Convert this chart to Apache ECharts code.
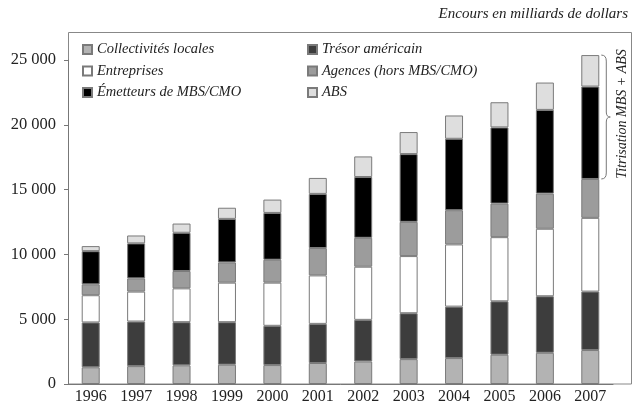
<!DOCTYPE html>
<html>
<head>
<meta charset="utf-8">
<script src="https://cdn.jsdelivr.net/npm/echarts@6/dist/echarts.min.js"></script>
<style>
html,body{margin:0;padding:0;background:#fff;}
#chart{width:636px;height:410px;}
</style>
</head>
<body>
<div id="chart"></div>
<script>
const years = ['1996','1997','1998','1999','2000','2001','2002','2003','2004','2005','2006','2007'];
const collectivites = [1290,1380,1440,1490,1460,1620,1740,1920,2000,2260,2410,2620];
const tresor        = [3460,3440,3330,3280,3030,3020,3210,3540,3970,4120,4360,4510];
const entreprises   = [2100,2310,2610,3050,3330,3740,4100,4410,4800,4950,5210,5690];
const agences       = [840,1020,1340,1560,1770,2110,2230,2640,2640,2590,2710,3000];
const mbs           = [2560,2700,2950,3360,3610,4180,4690,5230,5510,5880,6460,7130];
const abs           = [390,610,710,860,1030,1230,1590,1700,1800,1940,2110,2430];

const names = ['Collectivités locales','Trésor américain','Entreprises','Agences (hors MBS/CMO)','Émetteurs de MBS/CMO','ABS'];
const colors = ['#b3b3b3','#3d3d3d','#ffffff','#9c9c9c','#000000','#dedede'];
const seriesData = [collectivites, tresor, entreprises, agences, mbs, abs];

const serif = '"Liberation Serif", "DejaVu Serif", serif';
const chart = echarts.init(document.getElementById('chart'), null, {renderer:'canvas'});

const legendText = {fontFamily: serif, fontStyle:'italic', fontSize:14.5, color:'#222'};
const option = {
  animation:false,
  backgroundColor:'#fff',
  title:{
    text:'Encours en milliards de dollars',
    right:3, top:2,
    textStyle:{fontFamily:serif, fontStyle:'italic', fontWeight:'normal', fontSize:15, color:'#222'}
  },
  legend:[
    {data:[names[0],names[2],names[4]], orient:'vertical', left:77, top:37, itemWidth:9, itemHeight:9, itemGap:6.5,
     icon:'rect', textStyle:legendText, selectedMode:false},
    {data:[names[1],names[3],names[5]], orient:'vertical', left:302, top:37, itemWidth:9, itemHeight:9, itemGap:6.5,
     icon:'rect', textStyle:legendText, selectedMode:false}
  ],
  grid:{left:68, right:23, top:60, bottom:26},
  xAxis:{
    type:'category', data:years,
    axisLine:{lineStyle:{color:'#777'}},
    axisTick:{show:false},
    axisLabel:{fontFamily:serif, fontSize:16, color:'#222', margin:5}
  },
  yAxis:{
    type:'value', min:0, max:25000, interval:5000,
    splitLine:{show:false},
    axisLine:{show:true, lineStyle:{color:'#777'}},
    axisTick:{show:true, length:4, lineStyle:{color:'#777'}},
    axisLabel:{fontFamily:serif, fontSize:16.5, color:'#222', margin:12,
      formatter:v => v===0 ? '0' : (v/1000) + ' 000'}
  },
  series: seriesData.map((d,i)=>({
    name:names[i], type:'bar', stack:'total', data:d, barWidth:18, clip:false,
    itemStyle:{color:colors[i], borderColor:'#7a7a7a', borderWidth:1},
    emphasis:{disabled:true}
  }))
};
chart.setOption(option);

// brace annotation around MBS + ABS of the last year
const last = years.length - 1;
let total = 0; seriesData.forEach(d => total += d[last]);
const pTop = chart.convertToPixel({gridIndex:0}, [last, total]);
const pBot = chart.convertToPixel({gridIndex:0}, [last, total - abs[last] - mbs[last]]);
const x0 = pTop[0] + 11, xm = x0 + 5, x1 = x0 + 9;
const yT = pTop[1], yB = pBot[1], yM = (yT + yB) / 2;
const braceStyle = {fill:'none', stroke:'#777', lineWidth:1};
chart.setOption({
  graphic:[
    {type:'rect', shape:{x:68.5, y:32.5, width:563, height:351.5}, style:{fill:'none', stroke:'#888', lineWidth:1}, z:-1},
    {type:'bezierCurve', shape:{x1:x0, y1:yT, cpx1:xm, cpy1:yT, x2:xm, y2:yT+6}, style:braceStyle},
    {type:'line', shape:{x1:xm, y1:yT+6, x2:xm, y2:yM-5}, style:braceStyle},
    {type:'bezierCurve', shape:{x1:xm, y1:yM-5, cpx1:xm, cpy1:yM, x2:x1, y2:yM}, style:braceStyle},
    {type:'bezierCurve', shape:{x1:x1, y1:yM, cpx1:xm, cpy1:yM, x2:xm, y2:yM+5}, style:braceStyle},
    {type:'line', shape:{x1:xm, y1:yM+5, x2:xm, y2:yB-6}, style:braceStyle},
    {type:'bezierCurve', shape:{x1:xm, y1:yB-6, cpx1:xm, cpy1:yB, x2:x0, y2:yB}, style:braceStyle},
    {type:'text', x:622, y:yM - 3, rotation:Math.PI/2,
     style:{text:'Titrisation MBS + ABS', align:'center', verticalAlign:'middle',
            font:'italic 14px "Liberation Serif", serif', fill:'#222'}}
  ]
});
</script>
</body>
</html>
